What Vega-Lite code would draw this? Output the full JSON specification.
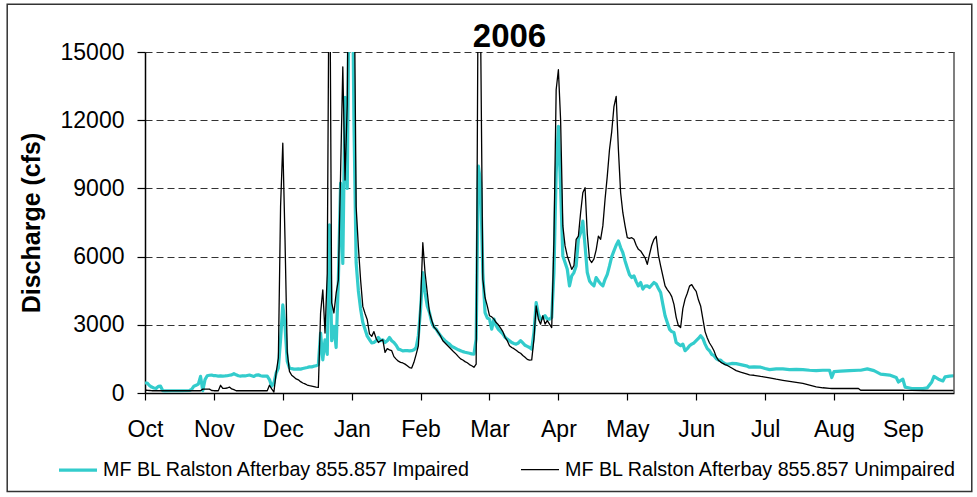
{
  "$schema": "https://vega.github.io/schema/vega-lite/v6.json",
  "width": 809,
  "height": 341,
  "autosize": {"type": "none"},
  "padding": {"left": 145, "top": 52, "right": 23, "bottom": 104},
  "background": "white",
  "config": {"font": "Liberation Sans", "view": {"stroke": null}},
  "title": {"text": "2006", "fontSize": 33, "font": "Liberation Sans", "fontWeight": "bold", "color": "black", "frame": "group", "baseline": "alphabetic", "offset": 5, "dx": -40, "dy": 81},
  "layer": [
    {
      "data": {"values": [
        {"date":"2005-10-01","Impaired":440,"Unimpaired":120},
        {"date":"2005-10-02","Impaired":440,"Unimpaired":120},
        {"date":"2005-10-03","Impaired":330,"Unimpaired":110},
        {"date":"2005-10-04","Impaired":260,"Unimpaired":100},
        {"date":"2005-10-05","Impaired":220,"Unimpaired":100},
        {"date":"2005-10-06","Impaired":200,"Unimpaired":100},
        {"date":"2005-10-07","Impaired":290,"Unimpaired":100},
        {"date":"2005-10-08","Impaired":300,"Unimpaired":100},
        {"date":"2005-10-09","Impaired":100,"Unimpaired":100},
        {"date":"2005-10-10","Impaired":90,"Unimpaired":100},
        {"date":"2005-10-13","Impaired":100,"Unimpaired":100},
        {"date":"2005-10-17","Impaired":100,"Unimpaired":100},
        {"date":"2005-10-21","Impaired":110,"Unimpaired":100},
        {"date":"2005-10-22","Impaired":160,"Unimpaired":100},
        {"date":"2005-10-23","Impaired":300,"Unimpaired":100},
        {"date":"2005-10-24","Impaired":340,"Unimpaired":100},
        {"date":"2005-10-25","Impaired":390,"Unimpaired":100},
        {"date":"2005-10-26","Impaired":730,"Unimpaired":100},
        {"date":"2005-10-27","Impaired":100,"Unimpaired":170},
        {"date":"2005-10-28","Impaired":590,"Unimpaired":170},
        {"date":"2005-10-29","Impaired":760,"Unimpaired":170},
        {"date":"2005-10-30","Impaired":780,"Unimpaired":170},
        {"date":"2005-10-31","Impaired":790,"Unimpaired":110},
        {"date":"2005-11-01","Impaired":760,"Unimpaired":100},
        {"date":"2005-11-02","Impaired":760,"Unimpaired":100},
        {"date":"2005-11-03","Impaired":740,"Unimpaired":100},
        {"date":"2005-11-04","Impaired":750,"Unimpaired":340},
        {"date":"2005-11-05","Impaired":745,"Unimpaired":200},
        {"date":"2005-11-06","Impaired":750,"Unimpaired":200},
        {"date":"2005-11-07","Impaired":760,"Unimpaired":220},
        {"date":"2005-11-08","Impaired":780,"Unimpaired":260},
        {"date":"2005-11-09","Impaired":800,"Unimpaired":180},
        {"date":"2005-11-10","Impaired":850,"Unimpaired":150},
        {"date":"2005-11-11","Impaired":800,"Unimpaired":100},
        {"date":"2005-11-12","Impaired":760,"Unimpaired":100},
        {"date":"2005-11-13","Impaired":745,"Unimpaired":100},
        {"date":"2005-11-14","Impaired":760,"Unimpaired":100},
        {"date":"2005-11-15","Impaired":750,"Unimpaired":100},
        {"date":"2005-11-16","Impaired":770,"Unimpaired":100},
        {"date":"2005-11-17","Impaired":790,"Unimpaired":100},
        {"date":"2005-11-18","Impaired":760,"Unimpaired":100},
        {"date":"2005-11-19","Impaired":730,"Unimpaired":100},
        {"date":"2005-11-20","Impaired":790,"Unimpaired":100},
        {"date":"2005-11-21","Impaired":800,"Unimpaired":100},
        {"date":"2005-11-22","Impaired":760,"Unimpaired":100},
        {"date":"2005-11-23","Impaired":745,"Unimpaired":100},
        {"date":"2005-11-24","Impaired":740,"Unimpaired":100},
        {"date":"2005-11-25","Impaired":745,"Unimpaired":100},
        {"date":"2005-11-26","Impaired":590,"Unimpaired":340},
        {"date":"2005-11-27","Impaired":300,"Unimpaired":180},
        {"date":"2005-11-28","Impaired":440,"Unimpaired":40},
        {"date":"2005-11-29","Impaired":880,"Unimpaired":880},
        {"date":"2005-11-30","Impaired":1100,"Unimpaired":1540},
        {"date":"2005-12-01","Impaired":2340,"Unimpaired":8200},
        {"date":"2005-12-02","Impaired":3880,"Unimpaired":10990},
        {"date":"2005-12-03","Impaired":2930,"Unimpaired":6740},
        {"date":"2005-12-04","Impaired":1400,"Unimpaired":1800},
        {"date":"2005-12-05","Impaired":1100,"Unimpaired":950},
        {"date":"2005-12-06","Impaired":1070,"Unimpaired":780},
        {"date":"2005-12-07","Impaired":1050,"Unimpaired":700},
        {"date":"2005-12-08","Impaired":1050,"Unimpaired":620},
        {"date":"2005-12-09","Impaired":1060,"Unimpaired":580},
        {"date":"2005-12-10","Impaired":1050,"Unimpaired":500},
        {"date":"2005-12-11","Impaired":1080,"Unimpaired":440},
        {"date":"2005-12-12","Impaired":1100,"Unimpaired":400},
        {"date":"2005-12-13","Impaired":1120,"Unimpaired":350},
        {"date":"2005-12-14","Impaired":1150,"Unimpaired":320},
        {"date":"2005-12-15","Impaired":1150,"Unimpaired":300},
        {"date":"2005-12-16","Impaired":1180,"Unimpaired":280},
        {"date":"2005-12-17","Impaired":1200,"Unimpaired":260},
        {"date":"2005-12-18","Impaired":1250,"Unimpaired":250},
        {"date":"2005-12-19","Impaired":2640,"Unimpaired":3520},
        {"date":"2005-12-20","Impaired":1460,"Unimpaired":4540},
        {"date":"2005-12-21","Impaired":2340,"Unimpaired":2640},
        {"date":"2005-12-22","Impaired":1700,"Unimpaired":5270},
        {"date":"2005-12-23","Impaired":7400,"Unimpaired":22000},
        {"date":"2005-12-24","Impaired":2300,"Unimpaired":3960},
        {"date":"2005-12-25","Impaired":2930,"Unimpaired":3520},
        {"date":"2005-12-26","Impaired":2000,"Unimpaired":4390},
        {"date":"2005-12-27","Impaired":4980,"Unimpaired":4980},
        {"date":"2005-12-28","Impaired":9230,"Unimpaired":9670},
        {"date":"2005-12-29","Impaired":5700,"Unimpaired":14350},
        {"date":"2005-12-30","Impaired":13000,"Unimpaired":9370},
        {"date":"2005-12-31","Impaired":9000,"Unimpaired":12700},
        {"date":"2006-01-01","Impaired":20000,"Unimpaired":25000},
        {"date":"2006-01-02","Impaired":22000,"Unimpaired":28000},
        {"date":"2006-01-03","Impaired":12000,"Unimpaired":20000},
        {"date":"2006-01-04","Impaired":5720,"Unimpaired":8200},
        {"date":"2006-01-05","Impaired":4500,"Unimpaired":6440},
        {"date":"2006-01-06","Impaired":3700,"Unimpaired":4980},
        {"date":"2006-01-07","Impaired":3100,"Unimpaired":3810},
        {"date":"2006-01-08","Impaired":2800,"Unimpaired":3500},
        {"date":"2006-01-09","Impaired":2500,"Unimpaired":3220},
        {"date":"2006-01-10","Impaired":2350,"Unimpaired":2600},
        {"date":"2006-01-11","Impaired":2200,"Unimpaired":2490},
        {"date":"2006-01-12","Impaired":2220,"Unimpaired":2700},
        {"date":"2006-01-13","Impaired":2300,"Unimpaired":2400},
        {"date":"2006-01-14","Impaired":2440,"Unimpaired":2220},
        {"date":"2006-01-15","Impaired":2300,"Unimpaired":2300},
        {"date":"2006-01-16","Impaired":2340,"Unimpaired":2340},
        {"date":"2006-01-17","Impaired":2220,"Unimpaired":1790},
        {"date":"2006-01-18","Impaired":2300,"Unimpaired":1950},
        {"date":"2006-01-19","Impaired":2440,"Unimpaired":1900},
        {"date":"2006-01-20","Impaired":2300,"Unimpaired":1860},
        {"date":"2006-01-21","Impaired":2220,"Unimpaired":1600},
        {"date":"2006-01-22","Impaired":2100,"Unimpaired":1490},
        {"date":"2006-01-23","Impaired":1930,"Unimpaired":1400},
        {"date":"2006-01-24","Impaired":1900,"Unimpaired":1350},
        {"date":"2006-01-25","Impaired":1850,"Unimpaired":1320},
        {"date":"2006-01-26","Impaired":1860,"Unimpaired":1270},
        {"date":"2006-01-27","Impaired":1860,"Unimpaired":1200},
        {"date":"2006-01-28","Impaired":1850,"Unimpaired":1120},
        {"date":"2006-01-29","Impaired":1860,"Unimpaired":1100},
        {"date":"2006-01-30","Impaired":1900,"Unimpaired":1350},
        {"date":"2006-01-31","Impaired":2000,"Unimpaired":1700},
        {"date":"2006-02-01","Impaired":2520,"Unimpaired":2080},
        {"date":"2006-02-02","Impaired":3690,"Unimpaired":4000},
        {"date":"2006-02-03","Impaired":5300,"Unimpaired":6610},
        {"date":"2006-02-04","Impaired":4420,"Unimpaired":5300},
        {"date":"2006-02-05","Impaired":3830,"Unimpaired":4420},
        {"date":"2006-02-06","Impaired":3540,"Unimpaired":3540},
        {"date":"2006-02-07","Impaired":3100,"Unimpaired":3200},
        {"date":"2006-02-08","Impaired":2900,"Unimpaired":2900},
        {"date":"2006-02-09","Impaired":2810,"Unimpaired":2800},
        {"date":"2006-02-10","Impaired":2650,"Unimpaired":2660},
        {"date":"2006-02-11","Impaired":2520,"Unimpaired":2500},
        {"date":"2006-02-12","Impaired":2400,"Unimpaired":2300},
        {"date":"2006-02-13","Impaired":2300,"Unimpaired":2200},
        {"date":"2006-02-14","Impaired":2220,"Unimpaired":2100},
        {"date":"2006-02-15","Impaired":2150,"Unimpaired":2000},
        {"date":"2006-02-16","Impaired":2050,"Unimpaired":1900},
        {"date":"2006-02-17","Impaired":2000,"Unimpaired":1800},
        {"date":"2006-02-18","Impaired":1950,"Unimpaired":1710},
        {"date":"2006-02-19","Impaired":1900,"Unimpaired":1600},
        {"date":"2006-02-20","Impaired":1860,"Unimpaired":1500},
        {"date":"2006-02-21","Impaired":1820,"Unimpaired":1450},
        {"date":"2006-02-22","Impaired":1790,"Unimpaired":1380},
        {"date":"2006-02-23","Impaired":1770,"Unimpaired":1330},
        {"date":"2006-02-24","Impaired":1750,"Unimpaired":1250},
        {"date":"2006-02-25","Impaired":1720,"Unimpaired":1200},
        {"date":"2006-02-26","Impaired":1710,"Unimpaired":1130},
        {"date":"2006-02-27","Impaired":2370,"Unimpaired":1270},
        {"date":"2006-02-28","Impaired":9980,"Unimpaired":20000},
        {"date":"2006-03-01","Impaired":9250,"Unimpaired":16000},
        {"date":"2006-03-02","Impaired":5300,"Unimpaired":5000},
        {"date":"2006-03-03","Impaired":3540,"Unimpaired":4200},
        {"date":"2006-03-04","Impaired":3300,"Unimpaired":3830},
        {"date":"2006-03-05","Impaired":3250,"Unimpaired":3400},
        {"date":"2006-03-06","Impaired":2810,"Unimpaired":3350},
        {"date":"2006-03-07","Impaired":3250,"Unimpaired":3250},
        {"date":"2006-03-08","Impaired":2960,"Unimpaired":3100},
        {"date":"2006-03-09","Impaired":2800,"Unimpaired":3000},
        {"date":"2006-03-10","Impaired":2700,"Unimpaired":2850},
        {"date":"2006-03-11","Impaired":2600,"Unimpaired":2700},
        {"date":"2006-03-12","Impaired":2450,"Unimpaired":2450},
        {"date":"2006-03-13","Impaired":2370,"Unimpaired":2300},
        {"date":"2006-03-14","Impaired":2300,"Unimpaired":2080},
        {"date":"2006-03-15","Impaired":2220,"Unimpaired":2000},
        {"date":"2006-03-16","Impaired":2180,"Unimpaired":1950},
        {"date":"2006-03-17","Impaired":2150,"Unimpaired":1880},
        {"date":"2006-03-18","Impaired":2200,"Unimpaired":1800},
        {"date":"2006-03-19","Impaired":2300,"Unimpaired":1750},
        {"date":"2006-03-20","Impaired":2200,"Unimpaired":1650},
        {"date":"2006-03-21","Impaired":2100,"Unimpaired":1570},
        {"date":"2006-03-22","Impaired":2050,"Unimpaired":1480},
        {"date":"2006-03-23","Impaired":2000,"Unimpaired":1450},
        {"date":"2006-03-24","Impaired":1930,"Unimpaired":1460},
        {"date":"2006-03-25","Impaired":2660,"Unimpaired":2370},
        {"date":"2006-03-26","Impaired":3980,"Unimpaired":3830},
        {"date":"2006-03-27","Impaired":3470,"Unimpaired":3250},
        {"date":"2006-03-28","Impaired":3250,"Unimpaired":3030},
        {"date":"2006-03-29","Impaired":3300,"Unimpaired":3400},
        {"date":"2006-03-30","Impaired":3400,"Unimpaired":3030},
        {"date":"2006-03-31","Impaired":3250,"Unimpaired":3180},
        {"date":"2006-04-01","Impaired":3250,"Unimpaired":3030},
        {"date":"2006-04-02","Impaired":3320,"Unimpaired":2880},
        {"date":"2006-04-03","Impaired":5300,"Unimpaired":6760},
        {"date":"2006-04-04","Impaired":9690,"Unimpaired":13340},
        {"date":"2006-04-05","Impaired":11730,"Unimpaired":14220},
        {"date":"2006-04-06","Impaired":9000,"Unimpaired":12000},
        {"date":"2006-04-07","Impaired":6030,"Unimpaired":7350},
        {"date":"2006-04-08","Impaired":5740,"Unimpaired":6470},
        {"date":"2006-04-09","Impaired":5440,"Unimpaired":6030},
        {"date":"2006-04-10","Impaired":4710,"Unimpaired":5740},
        {"date":"2006-04-11","Impaired":5150,"Unimpaired":5440},
        {"date":"2006-04-12","Impaired":5300,"Unimpaired":5600},
        {"date":"2006-04-13","Impaired":5590,"Unimpaired":6760},
        {"date":"2006-04-14","Impaired":6760,"Unimpaired":6900},
        {"date":"2006-04-15","Impaired":7050,"Unimpaired":7930},
        {"date":"2006-04-16","Impaired":7560,"Unimpaired":8810},
        {"date":"2006-04-17","Impaired":6470,"Unimpaired":9030},
        {"date":"2006-04-18","Impaired":5300,"Unimpaired":7000},
        {"date":"2006-04-19","Impaired":4930,"Unimpaired":5880},
        {"date":"2006-04-20","Impaired":4800,"Unimpaired":5740},
        {"date":"2006-04-21","Impaired":4710,"Unimpaired":5900},
        {"date":"2006-04-22","Impaired":5080,"Unimpaired":6300},
        {"date":"2006-04-23","Impaired":4930,"Unimpaired":6900},
        {"date":"2006-04-24","Impaired":4800,"Unimpaired":6760},
        {"date":"2006-04-25","Impaired":4710,"Unimpaired":7350},
        {"date":"2006-04-26","Impaired":5000,"Unimpaired":8520},
        {"date":"2006-04-27","Impaired":5220,"Unimpaired":9540},
        {"date":"2006-04-28","Impaired":5590,"Unimpaired":10710},
        {"date":"2006-04-29","Impaired":6000,"Unimpaired":11500},
        {"date":"2006-04-30","Impaired":6250,"Unimpaired":12600},
        {"date":"2006-05-01","Impaired":6500,"Unimpaired":13050},
        {"date":"2006-05-02","Impaired":6690,"Unimpaired":10710},
        {"date":"2006-05-03","Impaired":6400,"Unimpaired":8810},
        {"date":"2006-05-04","Impaired":6170,"Unimpaired":7930},
        {"date":"2006-05-05","Impaired":5810,"Unimpaired":7350},
        {"date":"2006-05-06","Impaired":5500,"Unimpaired":6830},
        {"date":"2006-05-07","Impaired":5200,"Unimpaired":6800},
        {"date":"2006-05-08","Impaired":5080,"Unimpaired":6830},
        {"date":"2006-05-09","Impaired":5150,"Unimpaired":6760},
        {"date":"2006-05-10","Impaired":4900,"Unimpaired":6500},
        {"date":"2006-05-11","Impaired":4710,"Unimpaired":6320},
        {"date":"2006-05-12","Impaired":4860,"Unimpaired":6250},
        {"date":"2006-05-13","Impaired":4570,"Unimpaired":6100},
        {"date":"2006-05-14","Impaired":4700,"Unimpaired":5950},
        {"date":"2006-05-15","Impaired":4710,"Unimpaired":5660},
        {"date":"2006-05-16","Impaired":4640,"Unimpaired":6100},
        {"date":"2006-05-17","Impaired":4750,"Unimpaired":6500},
        {"date":"2006-05-18","Impaired":4860,"Unimpaired":6760},
        {"date":"2006-05-19","Impaired":4790,"Unimpaired":6890},
        {"date":"2006-05-20","Impaired":4600,"Unimpaired":6060},
        {"date":"2006-05-21","Impaired":4420,"Unimpaired":5590},
        {"date":"2006-05-22","Impaired":3900,"Unimpaired":5150},
        {"date":"2006-05-23","Impaired":3400,"Unimpaired":4710},
        {"date":"2006-05-24","Impaired":3100,"Unimpaired":4550},
        {"date":"2006-05-25","Impaired":2800,"Unimpaired":4420},
        {"date":"2006-05-26","Impaired":2700,"Unimpaired":4240},
        {"date":"2006-05-27","Impaired":2660,"Unimpaired":3900},
        {"date":"2006-05-28","Impaired":2220,"Unimpaired":3330},
        {"date":"2006-05-29","Impaired":2150,"Unimpaired":2960},
        {"date":"2006-05-30","Impaired":2080,"Unimpaired":2880},
        {"date":"2006-05-31","Impaired":2150,"Unimpaired":3710},
        {"date":"2006-06-01","Impaired":1860,"Unimpaired":4130},
        {"date":"2006-06-02","Impaired":1950,"Unimpaired":4390},
        {"date":"2006-06-03","Impaired":2080,"Unimpaired":4700},
        {"date":"2006-06-04","Impaired":2150,"Unimpaired":4770},
        {"date":"2006-06-05","Impaired":2200,"Unimpaired":4600},
        {"date":"2006-06-06","Impaired":2300,"Unimpaired":4470},
        {"date":"2006-06-07","Impaired":2400,"Unimpaired":4100},
        {"date":"2006-06-08","Impaired":2520,"Unimpaired":3830},
        {"date":"2006-06-09","Impaired":2400,"Unimpaired":3260},
        {"date":"2006-06-10","Impaired":2150,"Unimpaired":2700},
        {"date":"2006-06-11","Impaired":1950,"Unimpaired":2420},
        {"date":"2006-06-12","Impaired":1860,"Unimpaired":2200},
        {"date":"2006-06-13","Impaired":1700,"Unimpaired":2045},
        {"date":"2006-06-14","Impaired":1640,"Unimpaired":1860},
        {"date":"2006-06-15","Impaired":1515,"Unimpaired":1600},
        {"date":"2006-06-16","Impaired":1450,"Unimpaired":1440},
        {"date":"2006-06-17","Impaired":1450,"Unimpaired":1360},
        {"date":"2006-06-18","Impaired":1350,"Unimpaired":1300},
        {"date":"2006-06-19","Impaired":1290,"Unimpaired":1250},
        {"date":"2006-06-20","Impaired":1260,"Unimpaired":1212},
        {"date":"2006-06-22","Impaired":1300,"Unimpaired":1100},
        {"date":"2006-06-24","Impaired":1290,"Unimpaired":985},
        {"date":"2006-06-26","Impaired":1250,"Unimpaired":920},
        {"date":"2006-06-29","Impaired":1180,"Unimpaired":833},
        {"date":"2006-06-30","Impaired":1136,"Unimpaired":800},
        {"date":"2006-07-02","Impaired":1150,"Unimpaired":780},
        {"date":"2006-07-05","Impaired":1136,"Unimpaired":727},
        {"date":"2006-07-07","Impaired":1080,"Unimpaired":700},
        {"date":"2006-07-09","Impaired":1030,"Unimpaired":670},
        {"date":"2006-07-12","Impaired":1060,"Unimpaired":606},
        {"date":"2006-07-15","Impaired":1060,"Unimpaired":560},
        {"date":"2006-07-18","Impaired":1030,"Unimpaired":515},
        {"date":"2006-07-21","Impaired":1040,"Unimpaired":470},
        {"date":"2006-07-24","Impaired":1030,"Unimpaired":424},
        {"date":"2006-07-27","Impaired":1000,"Unimpaired":350},
        {"date":"2006-07-30","Impaired":985,"Unimpaired":273},
        {"date":"2006-08-02","Impaired":1000,"Unimpaired":230},
        {"date":"2006-08-05","Impaired":1000,"Unimpaired":200},
        {"date":"2006-08-06","Impaired":680,"Unimpaired":197},
        {"date":"2006-08-07","Impaired":940,"Unimpaired":197},
        {"date":"2006-08-10","Impaired":960,"Unimpaired":197},
        {"date":"2006-08-14","Impaired":985,"Unimpaired":197},
        {"date":"2006-08-18","Impaired":1000,"Unimpaired":197},
        {"date":"2006-08-19","Impaired":1000,"Unimpaired":120},
        {"date":"2006-08-22","Impaired":1060,"Unimpaired":120},
        {"date":"2006-08-25","Impaired":985,"Unimpaired":120},
        {"date":"2006-08-28","Impaired":833,"Unimpaired":120},
        {"date":"2006-09-01","Impaired":788,"Unimpaired":120},
        {"date":"2006-09-04","Impaired":680,"Unimpaired":120},
        {"date":"2006-09-05","Impaired":485,"Unimpaired":120},
        {"date":"2006-09-07","Impaired":606,"Unimpaired":120},
        {"date":"2006-09-08","Impaired":258,"Unimpaired":115},
        {"date":"2006-09-11","Impaired":197,"Unimpaired":115},
        {"date":"2006-09-16","Impaired":197,"Unimpaired":110},
        {"date":"2006-09-18","Impaired":227,"Unimpaired":110},
        {"date":"2006-09-20","Impaired":485,"Unimpaired":110},
        {"date":"2006-09-21","Impaired":727,"Unimpaired":110},
        {"date":"2006-09-23","Impaired":606,"Unimpaired":110},
        {"date":"2006-09-25","Impaired":530,"Unimpaired":110},
        {"date":"2006-09-26","Impaired":712,"Unimpaired":110},
        {"date":"2006-09-28","Impaired":740,"Unimpaired":110},
        {"date":"2006-09-30","Impaired":758,"Unimpaired":110}
      ]},
      "transform": [{"fold": ["Impaired", "Unimpaired"], "as": ["series", "cfs"]}],
      "mark": {"type": "line", "clip": true, "strokeJoin": "round"},
      "encoding": {
        "x": {
          "field": "date", "type": "temporal",
          "scale": {"type": "utc", "domain": [{"year": 2005, "month": 10, "date": 1, "utc": true}, {"year": 2006, "month": 9, "date": 30, "utc": true}]},
          "axis": {
            "title": null,
            "values": [
              {"year": 2005, "month": 10, "date": 1, "utc": true},
              {"year": 2005, "month": 11, "date": 1, "utc": true},
              {"year": 2005, "month": 12, "date": 2, "utc": true},
              {"year": 2006, "month": 1, "date": 2, "utc": true},
              {"year": 2006, "month": 2, "date": 2, "utc": true},
              {"year": 2006, "month": 3, "date": 5, "utc": true},
              {"year": 2006, "month": 4, "date": 5, "utc": true},
              {"year": 2006, "month": 5, "date": 6, "utc": true},
              {"year": 2006, "month": 6, "date": 6, "utc": true},
              {"year": 2006, "month": 7, "date": 7, "utc": true},
              {"year": 2006, "month": 8, "date": 7, "utc": true},
              {"year": 2006, "month": 9, "date": 7, "utc": true}
            ],
            "labelExpr": "utcFormat(datum.value, '%b')",
            "labelFontSize": 23, "labelColor": "black", "labelFont": "Liberation Sans",
            "labelPadding": 18, "labelFlush": false, "labelOverlap": false, "labelBound": false,
            "tickSize": 7, "tickColor": "black", "tickWidth": 1.2,
            "domainColor": "black", "domainWidth": 1.5, "grid": false
          }
        },
        "y": {
          "field": "cfs", "type": "quantitative",
          "scale": {"domain": [0, 15000], "nice": false, "zero": true},
          "axis": {
            "title": "Discharge (cfs)", "titleFontSize": 25, "titleFontWeight": "bold", "titleColor": "black", "titleFont": "Liberation Sans", "titlePadding": 16,
            "values": [0, 1500, 3000, 4500, 6000, 7500, 9000, 10500, 12000, 13500, 15000],
            "labelExpr": "datum.value % 3000 === 0 ? format(datum.value, 'd') : ''",
            "labelFontSize": 23, "labelColor": "black", "labelFont": "Liberation Sans", "labelPadding": 13,
            "tickSize": {"condition": {"test": "datum.value % 3000 === 0", "value": 8}, "value": -6},
            "tickColor": "black", "tickWidth": 1.2,
            "domainColor": "black", "domainWidth": 1.5,
            "grid": true, "gridDash": [7, 4], "gridColor": "#333333", "gridWidth": 1,
            "gridOpacity": {"condition": {"test": "datum.value % 3000 === 0 && datum.value > 0", "value": 1}, "value": 0}
          }
        },
        "color": {
          "field": "series", "type": "nominal",
          "scale": {"domain": ["Impaired", "Unimpaired"], "range": ["#33CCCC", "#000000"]},
          "legend": {
            "orient": "none", "legendX": -88, "legendY": 397, "direction": "horizontal", "columns": 2,
            "title": null, "symbolType": "stroke", "symbolSize": 1444,
            "labelFontSize": 19.7, "labelFont": "Liberation Sans", "labelColor": "black", "labelLimit": 600,
            "labelOffset": 4, "columnPadding": 47,
            "labelExpr": "'MF BL Ralston Afterbay 855.857 ' + datum.label"
          }
        },
        "strokeWidth": {
          "field": "series", "type": "nominal",
          "scale": {"domain": ["Impaired", "Unimpaired"], "range": [3.2, 1.3]}
        }
      }
    },
    {
      "data": {"values": [{}]},
      "mark": {"type": "rule", "color": "#555555", "strokeWidth": 1.5},
      "encoding": {
        "x": {"datum": {"year": 2006, "month": 9, "date": 30, "utc": true}, "type": "temporal"}
      }
    },
    {
      "data": {"values": [{}]},
      "mark": {"type": "rect", "filled": false, "stroke": "#333333", "strokeWidth": 1.5, "clip": false},
      "encoding": {
        "x": {"datum": {"year": 2005, "month": 7, "date": 31, "utc": true}, "type": "temporal"},
        "x2": {"datum": {"year": 2006, "month": 10, "date": 8, "utc": true}},
        "y": {"datum": 17100, "type": "quantitative"},
        "y2": {"datum": -4330}
      }
    }
  ]
}
